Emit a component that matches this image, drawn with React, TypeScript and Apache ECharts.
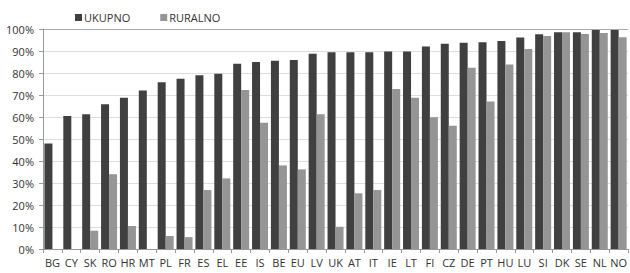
import React, { useEffect, useRef } from "react";
import * as echarts from "echarts";

const categories = ["BG","CY","SK","RO","HR","MT","PL","FR","ES","EL","EE","IS","BE","EU","LV","UK","AT","IT","IE","LT","FI","CZ","DE","PT","HU","LU","SI","DK","SE","NL","NO"];
const ukupno = [48,60.5,61.2,65.8,68.8,72,75.8,77.4,79,79.7,84.2,85,85.6,85.9,88.8,89.4,89.4,89.4,89.8,89.8,92,93.3,93.8,94,94.5,96.1,97.6,98.5,98.5,99.5,99.5];
const ruralno = [0,0,8.3,34,10.4,0,5.9,5.4,26.8,32.1,72.3,57.4,38,36.2,61.2,10.1,25.3,26.8,72.7,68.8,59.9,56,82.4,67,83.9,90.9,96.8,98.5,97.7,98.2,96.2];
const yTicks = [0,10,20,30,40,50,60,70,80,90,100];

export default function App() {
  const ref = useRef<HTMLDivElement>(null);
  useEffect(() => {
    const chart = echarts.init(ref.current!, null, { renderer: "svg" });
    const font = "'Open Sans', 'Liberation Sans', sans-serif";
    chart.setOption({
      animation: false,
      textStyle: { fontFamily: font },
      legend: {
        top: 7,
        left: 70,
        itemWidth: 7,
        itemHeight: 7,
        itemGap: 30,
        icon: "rect",
        textStyle: { fontSize: 11, color: "#333", fontFamily: font, padding: [0, 0, 0, -3] },
        data: ["UKUPNO", "RURALNO"],
      },
      grid: { left: 43, top: 29, width: 589, height: 220, containLabel: false },
      xAxis: {
        type: "category",
        data: categories,
        axisLine: { lineStyle: { color: "#999", width: 1 } },
        axisTick: { show: true, length: 4, alignWithLabel: false, lineStyle: { color: "#999" } },
        axisLabel: { interval: 0, fontSize: 11, color: "#333", margin: 8, fontFamily: font },
      },
      yAxis: {
        type: "value",
        min: 0,
        max: 100,
        interval: 10,
        axisLine: { show: true, lineStyle: { color: "#999" } },
        axisTick: { show: true, length: 4, lineStyle: { color: "#999" } },
        axisLabel: {
          fontSize: 11,
          color: "#333",
          margin: 9,
          fontFamily: font,
          formatter: (v: number) => (yTicks.includes(v) ? v + "%" : ""),
        },
        splitLine: {
          show: true,
          lineStyle: { color: ["#ddd","#ddd","#ddd","#ddd","#ddd","#ddd","#ddd","#ddd","#ddd","#ddd","#aaa"], width: 1 },
        },
      },
      series: [
        {
          name: "UKUPNO",
          type: "bar",
          data: ukupno,
          barWidth: 8,
          barGap: "0%",
          itemStyle: { color: "#404040" },
        },
        {
          name: "RURALNO",
          type: "bar",
          data: ruralno,
          barWidth: 8,
          barGap: "0%",
          itemStyle: { color: "#959595" },
        },
      ],
    });
    return () => chart.dispose();
  }, []);
  return <div ref={ref} style={{ width: 630, height: 273, position: "absolute", left: 0, top: 0 }} />;
}
